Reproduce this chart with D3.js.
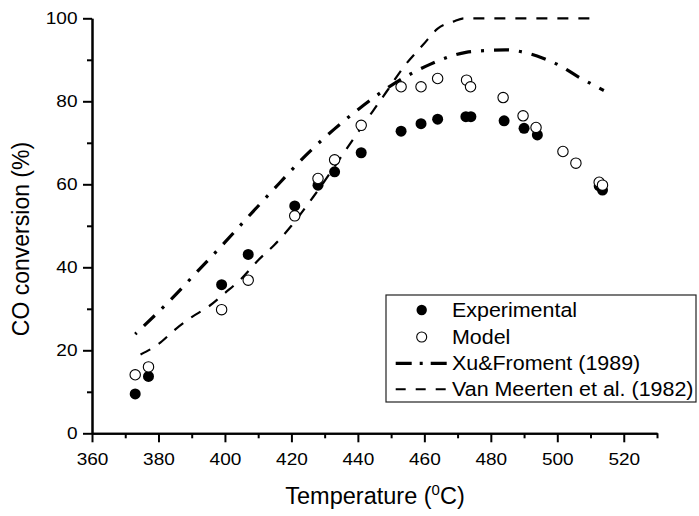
<!DOCTYPE html>
<html>
  <head>
    <meta charset="utf-8" />
    <title>CO conversion</title>
    <script src="https://d3js.org/d3.v7.min.js"></script>
    <style>
      body { margin: 0; background: #fff; }
      text { font-family: "Liberation Sans", Arial, sans-serif; fill: #000; }
    </style>
  </head>
  <body>
    <svg id="chart" width="699" height="516"></svg>
    <script>
        // experimental points
        var expT = [373, 377, 399, 407, 421, 428, 433, 441, 453, 459, 464, 472.5, 474, 484, 490, 494, 512.6, 513.6];
        var expV = [9.5, 13.7, 35.8, 43.1, 54.8, 59.8, 63.0, 67.6, 72.8, 74.6, 75.7, 76.3, 76.3, 75.3, 73.5, 71.9, 59.6, 58.6];

        // model points
        var modT = [373, 377, 399, 407, 421, 428, 433, 441, 453, 459, 464, 472.7, 473.9, 483.7, 489.7, 493.6, 501.7, 505.6, 512.6, 513.6];
        var modV = [14.1, 16.0, 29.8, 36.9, 52.4, 61.4, 65.9, 74.2, 83.5, 83.5, 85.5, 85.1, 83.5, 80.9, 76.5, 73.7, 67.9, 65.1, 60.5, 59.8];

        // Xu & Froment (1989)
        var xuT = [373, 384.3, 392.3, 400.3, 408.3, 416.3, 424.1, 432.9, 441.8, 452.6, 461.7, 472.5, 478, 484.4, 490, 495.7, 501, 506.3, 510, 514];
        var xuV = [23.9, 32.7, 39.5, 46.3, 53.3, 60.2, 66.8, 73.3, 79.1, 85.1, 88.9, 91.8, 92.2, 92.4, 91.8, 90.4, 88.5, 85.9, 84.3, 82.6];

        // Van Meerten et al. (1982)
        var vanT = [374.6, 380, 385, 390, 395, 400, 405, 410, 415, 420, 426.6, 440, 448.6, 454, 459.6, 464, 468.7, 472, 512.5];
        var vanV = [19.0, 21.5, 25.0, 28.0, 30.5, 33.8, 37.3, 41.7, 45.5, 50.0, 57.0, 72.5, 82.3, 88.5, 93.6, 97.5, 99.2, 100, 100];

        var xMajor = [360, 380, 400, 420, 440, 460, 480, 500, 520];
        var xMinor = [370, 390, 410, 430, 450, 470, 490, 510, 530];
        var yMajor = [0, 20, 40, 60, 80, 100];
        var yMinor = [10, 30, 50, 70, 90];

        var legendNames = ["Experimental", "Model", "Xu&Froment (1989)", "Van Meerten et al. (1982)"];

        var svg = d3.select("#chart");
        var stretch = 1.1;

        var x = d3.scaleLinear().domain([360, 530]).range([92, 657]);
        var y = d3.scaleLinear().domain([0, 100]).range([433.3, 18.3]);

        function zip(a, b) {
            return a.map(function (d, i) { return [d, b[i]]; });
        }

        var line = d3.line()
            .x(function (d) { return x(d[0]); })
            .y(function (d) { return y(d[1]); })
            .curve(d3.curveMonotoneX);

        // lines
        svg.append("path")
            .attr("d", line(zip(xuT, xuV)))
            .attr("fill", "none")
            .attr("stroke", "#000")
            .attr("stroke-width", 3.2)
            .attr("stroke-dasharray", "15,10,3,10")
            .attr("stroke-dashoffset", 26);

        svg.append("path")
            .attr("d", line(zip(vanT, vanV)))
            .attr("fill", "none")
            .attr("stroke", "#000")
            .attr("stroke-width", 2.2)
            .attr("stroke-dasharray", "11,10");

        // markers
        svg.selectAll("circle.exp")
            .data(zip(expT, expV))
            .enter().append("circle")
            .attr("class", "exp")
            .attr("cx", function (d) { return x(d[0]); })
            .attr("cy", function (d) { return y(d[1]); })
            .attr("r", 5.5)
            .attr("fill", "#000");

        svg.selectAll("circle.mod")
            .data(zip(modT, modV))
            .enter().append("circle")
            .attr("class", "mod")
            .attr("cx", function (d) { return x(d[0]); })
            .attr("cy", function (d) { return y(d[1]); })
            .attr("r", 5.2)
            .attr("fill", "#fff")
            .attr("stroke", "#000")
            .attr("stroke-width", 1.1);

        // axes
        svg.append("g")
            .attr("class", "xaxis")
            .attr("transform", "translate(0," + y(0) + ")")
            .call(d3.axisBottom(x).tickValues(xMajor).tickSize(9).tickPadding(10).tickSizeOuter(0));
        svg.append("g")
            .attr("transform", "translate(0," + y(0) + ")")
            .call(d3.axisBottom(x).tickValues(xMinor).tickSize(5).tickFormat("").tickSizeOuter(0));

        svg.append("g")
            .attr("class", "yaxis")
            .attr("transform", "translate(" + x(360) + ",0)")
            .call(d3.axisLeft(y).tickValues(yMajor).tickSize(9).tickPadding(5.5).tickSizeOuter(0));
        svg.append("g")
            .attr("transform", "translate(" + x(360) + ",0)")
            .call(d3.axisLeft(y).tickValues(yMinor).tickSize(5).tickFormat("").tickSizeOuter(0));

        svg.selectAll(".domain, .tick line")
            .attr("stroke", "#000")
            .attr("stroke-width", 2);
        svg.selectAll(".tick text")
            .style("font-size", "17.3px")
            .style("font-family", "'Liberation Sans', Arial, sans-serif")
            .attr("fill", "#000")
            .attr("transform", "scale(" + stretch + ",1)");
        svg.selectAll(".yaxis .tick text")
            .attr("x", -14.5 / stretch);

        // axis titles
        var xt = svg.append("text")
            .attr("x", 375)
            .attr("y", 504)
            .attr("text-anchor", "middle")
            .style("font-size", "23.5px");
        xt.append("tspan").text("Temperature (");
        xt.append("tspan").text("0").attr("dy", -9).style("font-size", "15px");
        xt.append("tspan").text("C)").attr("dy", 9);

        svg.append("text")
            .attr("transform", "translate(29,239) rotate(-90)")
            .attr("text-anchor", "middle")
            .style("font-size", "23px")
            .text("CO conversion (%)");

        // legend
        var legend = svg.append("g");
        legend.append("rect")
            .attr("x", 386).attr("y", 295)
            .attr("width", 310).attr("height", 107)
            .attr("fill", "#fff")
            .attr("stroke", "#222")
            .attr("stroke-width", 1.2);

        var rowY = [310, 337, 363.3, 389.3];

        legend.append("circle")
            .attr("cx", 421.7).attr("cy", rowY[0]).attr("r", 5.2).attr("fill", "#000");
        legend.append("circle")
            .attr("cx", 421.7).attr("cy", rowY[1]).attr("r", 5)
            .attr("fill", "#fff").attr("stroke", "#000").attr("stroke-width", 1.1);
        legend.append("line")
            .attr("x1", 395.7).attr("x2", 446.7).attr("y1", rowY[2]).attr("y2", rowY[2])
            .attr("stroke", "#000").attr("stroke-width", 3.2)
            .attr("stroke-dasharray", "16,8,3,8,16");
        legend.append("line")
            .attr("x1", 395.7).attr("x2", 446).attr("y1", rowY[3]).attr("y2", rowY[3])
            .attr("stroke", "#000").attr("stroke-width", 2)
            .attr("stroke-dasharray", "10,10");

        legend.selectAll("text.lab")
            .data(legendNames)
            .enter().append("text")
            .attr("class", "lab")
            .attr("transform", function (d, i) { return "translate(452," + rowY[i] + ") scale(" + stretch + ",1)"; })
            .attr("dy", "0.36em")
            .style("font-size", "19.5px")
            .text(function (d) { return d; });
    </script>
  </body>
</html>
